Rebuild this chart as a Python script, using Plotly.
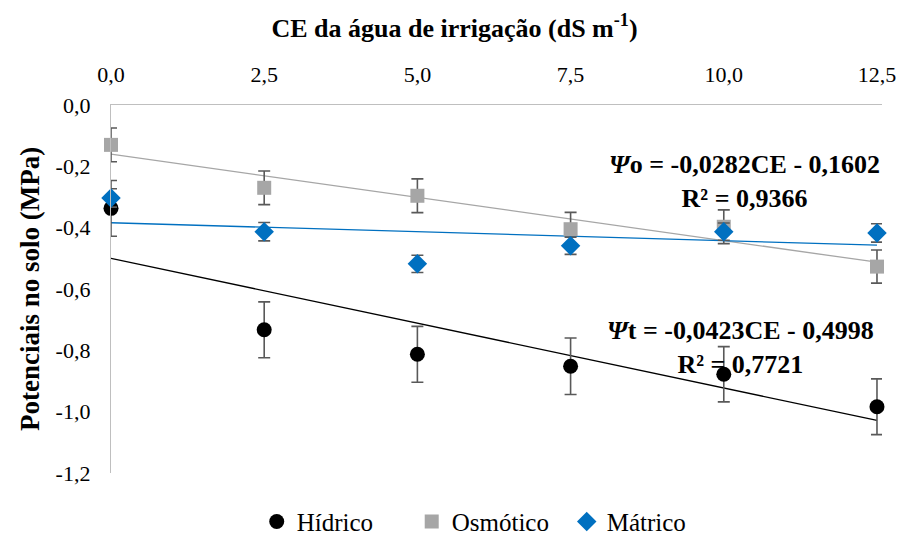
import numpy as np
import plotly.graph_objects as go

# Electrical conductivity of irrigation water (dS m-1)
ce = [0.0, 2.5, 5.0, 7.5, 10.0, 12.5]

# Soil water potentials (MPa) and their error bars
hidrico = [-0.337, -0.733, -0.813, -0.852, -0.878, -0.984]
hidrico_err = [0.091, 0.091, 0.091, 0.092, 0.090, 0.091]
osmotico = [-0.130, -0.270, -0.296, -0.405, -0.397, -0.527]
osmotico_err = [0.055, 0.055, 0.055, 0.055, 0.055, 0.054]
matrico = [-0.303, -0.413, -0.518, -0.459, -0.413, -0.417]
matrico_err = [0.030, 0.030, 0.028, 0.028, 0.028, 0.030]

# Fitted linear trends (slope, intercept)
fit_hidrico = (-0.0423, -0.4998)
fit_osmotico = (-0.0282, -0.1602)

x_ticks = [0.0, 2.5, 5.0, 7.5, 10.0, 12.5]
x_tick_text = ["0,0", "2,5", "5,0", "7,5", "10,0", "12,5"]
y_ticks = [0.0, -0.2, -0.4, -0.6, -0.8, -1.0, -1.2]
y_tick_text = ["0,0", "-0,2", "-0,4", "-0,6", "-0,8", "-1,0", "-1,2"]

FONT = "Liberation Serif"
ERR_COLOR = "#595959"
C_H, C_O, C_M = "#000000", "#A6A6A6", "#0070C0"

fit_matrico = tuple(np.polyfit(ce, matrico, 1))
xs = np.array([ce[0], ce[-1]])

fig = go.Figure()

# Trend lines
for (slope, intercept), color in [(fit_hidrico, C_H), (fit_osmotico, C_O), (fit_matrico, C_M)]:
    fig.add_trace(go.Scatter(
        x=xs, y=slope * xs + intercept, mode="lines",
        line=dict(color=color, width=1.3), showlegend=False, hoverinfo="skip",
    ))

def err(vals):
    return dict(type="data", array=vals, visible=True, color=ERR_COLOR, thickness=1.6, width=6)

fig.add_trace(go.Scatter(
    x=ce, y=hidrico, mode="markers", name="Hídrico",
    marker=dict(symbol="circle", size=15, color=C_H), error_y=err(hidrico_err),
))
fig.add_trace(go.Scatter(
    x=ce, y=osmotico, mode="markers", name="Osmótico",
    marker=dict(symbol="square", size=14, color=C_O), error_y=err(osmotico_err),
))
fig.add_trace(go.Scatter(
    x=ce, y=matrico, mode="markers", name="Mátrico",
    marker=dict(symbol="diamond", size=15, color=C_M), error_y=err(matrico_err),
))

fig.update_traces(cliponaxis=False)

# Regression equations
fig.add_annotation(
    xref="paper", yref="paper", x=0.822, y=0.792, xanchor="center", yanchor="middle",
    text="<b><i>Ψ</i>o = -0,0282CE - 0,1602</b><br><b>R² = 0,9366</b>",
    showarrow=False, font=dict(family=FONT, size=26, color="black"), align="center",
)
fig.add_annotation(
    xref="paper", yref="paper", x=0.816, y=0.34, xanchor="center", yanchor="middle",
    text="<b><i>Ψ</i>t = -0,0423CE - 0,4998</b><br><b>R² = 0,7721</b>",
    showarrow=False, font=dict(family=FONT, size=26, color="black"), align="center",
)

# Vertical axis title
fig.add_annotation(
    xref="paper", yref="paper", x=-0.105, y=0.5, xanchor="center", yanchor="middle",
    text="<b>Potenciais no solo (MPa)</b>", textangle=-90, showarrow=False,
    font=dict(family=FONT, size=27, color="black"),
)

fig.update_layout(
    width=900, height=537,
    margin=dict(l=111, r=18, t=105, b=64, autoexpand=False),
    paper_bgcolor="white", plot_bgcolor="white",
    font=dict(family=FONT, size=22, color="black"),
    title=dict(text="<b>CE da água de irrigação (dS m<sup>-1</sup>)</b>",
               font=dict(family=FONT, size=26, color="black"),
               x=0.505, xanchor="center", xref="container",
               y=1 - 28 / 537, yanchor="middle", yref="container"),
    showlegend=True,
    legend=dict(orientation="h", x=0.189, xanchor="left", y=-0.07, yanchor="top",
                font=dict(family=FONT, size=25), itemwidth=30, entrywidth=110,
                tracegroupgap=0),
    xaxis=dict(
        side="top", range=[0, 12.582], tickvals=x_ticks, ticktext=x_tick_text,
        showgrid=False, zeroline=False, showline=True, linecolor="#BFBFBF", linewidth=1.3,
        ticks="", ticklabelstandoff=13, tickfont=dict(family=FONT, size=22), automargin=False,
    ),
    yaxis=dict(
        range=[-1.2, 0], tickvals=y_ticks, ticktext=y_tick_text,
        showgrid=False, zeroline=False, showline=True, linecolor="#BFBFBF", linewidth=1.3,
        ticks="", ticklabelstandoff=15, tickfont=dict(family=FONT, size=22), automargin=False,
    ),
)

fig.write_html("out.html")
